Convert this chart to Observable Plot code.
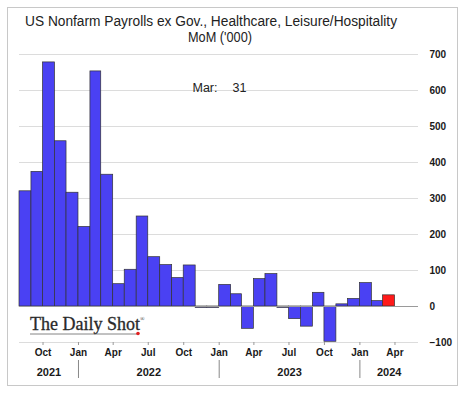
<!DOCTYPE html>
<html><head><meta charset="utf-8">
<script src="https://cdn.jsdelivr.net/npm/d3@7"></script>
<script src="https://cdn.jsdelivr.net/npm/@observablehq/plot@0.6"></script>
<style>
body{margin:0;background:#fff;}
#wrap{position:relative;width:466px;height:395px;overflow:hidden;}
#border{position:absolute;left:7px;top:7px;width:449px;height:377px;border:1px solid #c8c8c8;pointer-events:none;}
</style></head><body><div id="wrap"><div id="border"></div></div>
<script>
const months = ["2021-08","2021-09","2021-10","2021-11","2021-12",
  "2022-01","2022-02","2022-03","2022-04","2022-05","2022-06","2022-07","2022-08","2022-09","2022-10","2022-11","2022-12",
  "2023-01","2023-02","2023-03","2023-04","2023-05","2023-06","2023-07","2023-08","2023-09","2023-10","2023-11","2023-12",
  "2024-01","2024-02","2024-03"];
const values = [320,374,678,459,316,
  221,653,366,62,102,250,137,115,79,114,-4,-4,
  60,34,-62,76,90,-4,-35,-56,38,-98,6,21,
  65,15,31];
const xTickMonths = ["2021-10","2022-01","2022-04","2022-07","2022-10","2023-01","2023-04","2023-07","2023-10","2024-01","2024-04"];
const yTickValues = [-100,0,100,200,300,400,500,600,700];
const gridValues = [-100,100,200,300,400,500,600,700];
const yearLabels = ["2021","2022","2023","2024"];
const yearStarts = ["2021-08","2022-01","2023-01","2024-01"];
const domainEnd = "2024-06";
const titleLines = ["US Nonfarm Payrolls ex Gov., Healthcare, Leisure/Hospitality","MoM ('000)"];

const parse = d3.utcParse("%Y-%m");
const data = months.map((m,i)=>({x1: parse(m), x2: d3.utcMonth.offset(parse(m),1), value: values[i],
  color: i === months.length-1 ? "#ff1a1a" : "#4a41f3"}));
const bounds = yearStarts.map(parse).concat([parse(domainEnd)]);
const years = yearLabels.map((label,i)=>({label, mid: new Date((+bounds[i] + +bounds[i+1])/2)}));
const breaks = yearStarts.slice(1).map(parse);
const last = data[data.length-1];

const plot = Plot.plot({
  width:466, height:395,
  marginLeft:19, marginRight:48, marginTop:54, marginBottom:53,
  style:{fontFamily:"'Liberation Sans', Arial, sans-serif", background:"transparent", overflow:"visible"},
  x:{type:"utc", domain:[parse(months[0]), parse(domainEnd)]},
  y:{domain:[-100,700]},
  marks:[
    Plot.ruleY(gridValues, {stroke:"#dcdcdc", strokeWidth:1}),
    Plot.rectY(data, {x1:"x1", x2:"x2", y:"value", fill:"color", stroke:"#333", strokeWidth:0.7}),
    Plot.ruleY([0], {stroke:"#9a9a9a", strokeWidth:1}),
    Plot.axisY({anchor:"right", ticks:yTickValues, tickSize:0, tickPadding:11, fontSize:10, fontWeight:"bold", fill:"#1a1a1a", label:null}),
    Plot.axisX({ticks:xTickMonths.map(parse), tickFormat:d3.utcFormat("%b"), tickSize:3, tickPadding:3, fontSize:10, fontWeight:"bold", stroke:"#999", fill:"#1a1a1a", label:null}),
    Plot.ruleX(breaks, {stroke:"#888", strokeWidth:1, insetTop:306, insetBottom:-36}),
    Plot.text([d3.utcFormat("%b")(last.x1) + ":"], {frameAnchor:"top-left", dx:173, dy:29, textAnchor:"start", fontSize:12.5, fill:"#222"}),
    Plot.text([String(last.value)], {frameAnchor:"top-left", dx:213, dy:29, textAnchor:"start", fontSize:12.5, fill:"#222"}),
    Plot.text(years, {x:"mid", text:"label", frameAnchor:"bottom", dy:33, fontSize:11, fontWeight:"bold", fill:"#1a1a1a"})
  ]
});
document.getElementById("wrap").prepend(plot);
const svg = d3.select(plot);
// white gap behind annotation
svg.insert("rect", "g[aria-label=text]").attr("x",153).attr("y",76).attr("width",99).attr("height",14).attr("fill","#fff");
// title
svg.append("text").attr("x",211).attr("y",26).attr("text-anchor","middle").attr("font-size",14).attr("fill","#222")
  .attr("textLength",372).attr("lengthAdjust","spacingAndGlyphs").text(titleLines[0]);
svg.append("text").attr("x",220).attr("y",42).attr("text-anchor","middle").attr("font-size",14).attr("fill","#222")
  .attr("textLength",64).attr("lengthAdjust","spacingAndGlyphs").text(titleLines[1]);
// logo
const logo = svg.append("g").attr("font-family","'Liberation Serif', 'Times New Roman', serif").attr("text-anchor","start");
const lt = logo.append("text").attr("x",30).attr("y",330).attr("font-size",18).attr("fill","#2a2a2a");
lt.append("tspan").attr("stroke","#2a2a2a").attr("stroke-width",0.3).text("The Daily Shot");
lt.append("tspan").attr("font-size",6).attr("dy",-9).text("®");
logo.append("line").attr("x1",30).attr("x2",137).attr("y1",334).attr("y2",334).attr("stroke","#666").attr("stroke-width",0.8);
logo.append("circle").attr("cx",138).attr("cy",333.5).attr("r",1.8).attr("fill","#e02020");
</script></body></html>
